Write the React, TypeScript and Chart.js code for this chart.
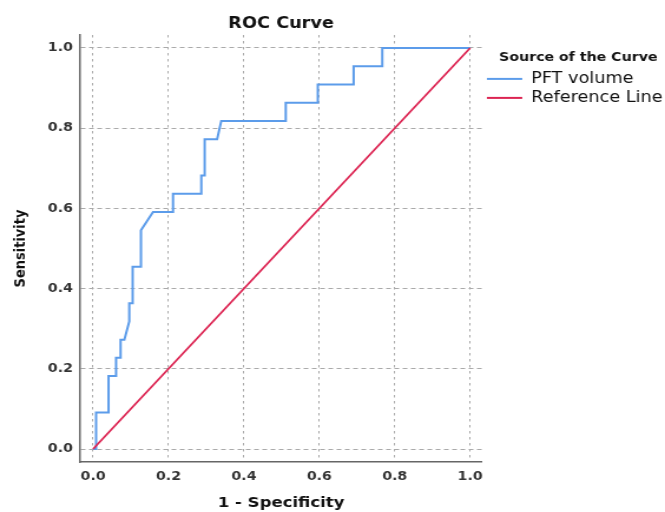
import React, { useEffect, useRef } from 'react';
import { Chart, registerables } from 'chart.js';

Chart.register(...registerables);

// ---- data ----
const pftFpr = [0, 0.008, 0.008, 0.041, 0.041, 0.061, 0.061, 0.073, 0.073, 0.083, 0.096, 0.096, 0.105, 0.105, 0.127, 0.127, 0.159, 0.212, 0.212, 0.287, 0.287, 0.296, 0.296, 0.329, 0.340, 0.511, 0.511, 0.596, 0.596, 0.691, 0.691, 0.767, 0.767, 1.0];
const pftTpr = [0, 0, 0.0909, 0.0909, 0.1818, 0.1818, 0.2273, 0.2273, 0.2727, 0.2727, 0.3182, 0.3636, 0.3636, 0.4545, 0.4545, 0.5455, 0.5909, 0.5909, 0.6364, 0.6364, 0.6818, 0.6818, 0.7727, 0.7727, 0.8182, 0.8182, 0.8636, 0.8636, 0.9091, 0.9091, 0.9545, 0.9545, 1.0, 1.0];
const refFpr = [0, 1];
const refTpr = [0, 1];
const tickValues = [0, 0.2, 0.4, 0.6, 0.8, 1.0];
const seriesNames = ['PFT volume', 'Reference Line'];
const seriesColors = ['#5c9cea', '#dc2452'];
const chartTitle = 'ROC Curve';
const legendTitle = 'Source of the Curve';
const xTitle = '1 - Specificity';
const yTitle = 'Sensitivity';

const FONT = "'DejaVu Sans', sans-serif";
const INTERNAL_W = 564;
const INTERNAL_H = 512;

export default function App() {
  const ref = useRef<HTMLCanvasElement | null>(null);

  useEffect(() => {
    const canvas = ref.current;
    if (!canvas) return;
    Chart.defaults.font.family = FONT;

    const fixedTicks = (axis: any) => {
      axis.ticks = tickValues.map((v) => ({ value: v }));
    };

    const chart = new Chart(canvas, {
      type: 'line',
      data: {
        datasets: [
          {
            label: seriesNames[0],
            data: pftFpr.map((x, i) => ({ x, y: pftTpr[i] })),
            borderColor: seriesColors[0],
            backgroundColor: seriesColors[0],
            borderWidth: 2,
            pointRadius: 0,
            tension: 0,
            fill: false,
            order: 2,
          },
          {
            label: seriesNames[1],
            data: refFpr.map((x, i) => ({ x, y: refTpr[i] })),
            borderColor: seriesColors[1],
            backgroundColor: seriesColors[1],
            borderWidth: 1.8,
            pointRadius: 0,
            tension: 0,
            fill: false,
            order: 1,
          },
        ],
      },
      options: {
        animation: false,
        responsive: false,
        devicePixelRatio: 1,
        layout: { padding: { top: 0, left: 0, right: -8, bottom: 0 } },
        plugins: {
          tooltip: { enabled: false },
          title: {
            display: true,
            text: chartTitle,
            fullSize: false,
            color: '#111',
            font: { family: FONT, size: 15, weight: 'bold' },
            padding: { top: 15.5, bottom: 1.5 },
          },
          legend: {
            display: true,
            position: 'right',
            align: 'start',
            maxWidth: 220,
            title: {
              display: true,
              text: legendTitle,
              position: 'center',
              color: '#111',
              font: { family: FONT, size: 12, weight: 'bold' },
              padding: { top: 52, bottom: 1 },
            },
            labels: {
              boxWidth: 30,
              boxHeight: 2,
              padding: 4,
              color: '#111',
              font: { family: FONT, size: 15 },
              generateLabels: () =>
                seriesNames.map((n, i) => ({
                  text: n,
                  fillStyle: seriesColors[i],
                  strokeStyle: seriesColors[i],
                  lineWidth: 0,
                  hidden: false,
                  datasetIndex: i,
                })),
            },
          },
        },
        scales: {
          x: {
            type: 'linear',
            min: -0.0346,
            max: 1.0319,
            afterBuildTicks: fixedTicks,
            ticks: {
              callback: (v: any) => Number(v).toFixed(1),
              color: '#333',
              font: { family: FONT, size: 12, weight: 'bold' },
              padding: 8,
              autoSkip: false,
              maxRotation: 0,
            },
            grid: { color: '#aaaaaa', lineWidth: 1, drawTicks: false },
            border: { display: true, color: '#666', width: 1.5, dash: [2.5, 3.5] },
            title: {
              display: true,
              text: xTitle,
              color: '#111',
              font: { family: FONT, size: 14, weight: 'bold' },
              padding: { top: 2.8, bottom: 0 },
            },
          },
          y: {
            type: 'linear',
            min: -0.0324,
            max: 1.0324,
            afterBuildTicks: fixedTicks,
            ticks: {
              callback: (v: any) => Number(v).toFixed(1),
              color: '#333',
              font: { family: FONT, size: 12, weight: 'bold' },
              padding: 6,
              autoSkip: false,
            },
            grid: { color: '#aaaaaa', lineWidth: 1, drawTicks: false },
            border: { display: true, color: '#666', width: 1.5, dash: [4, 3] },
            title: {
              display: true,
              text: yTitle,
              color: '#111',
              font: { family: FONT, size: 13, weight: 'bold' },
              padding: { top: 10, bottom: 9 },
            },
          },
        },
      },
    } as any);

    return () => chart.destroy();
  }, []);

  return (
    <div style={{ position: 'fixed', left: 0, top: 0, width: 665, height: 512, overflow: 'hidden', background: '#fff' }}>
      <canvas
        ref={ref}
        width={INTERNAL_W}
        height={INTERNAL_H}
        style={{ display: 'block', width: '665px', height: '512px' }}
      />
    </div>
  );
}
